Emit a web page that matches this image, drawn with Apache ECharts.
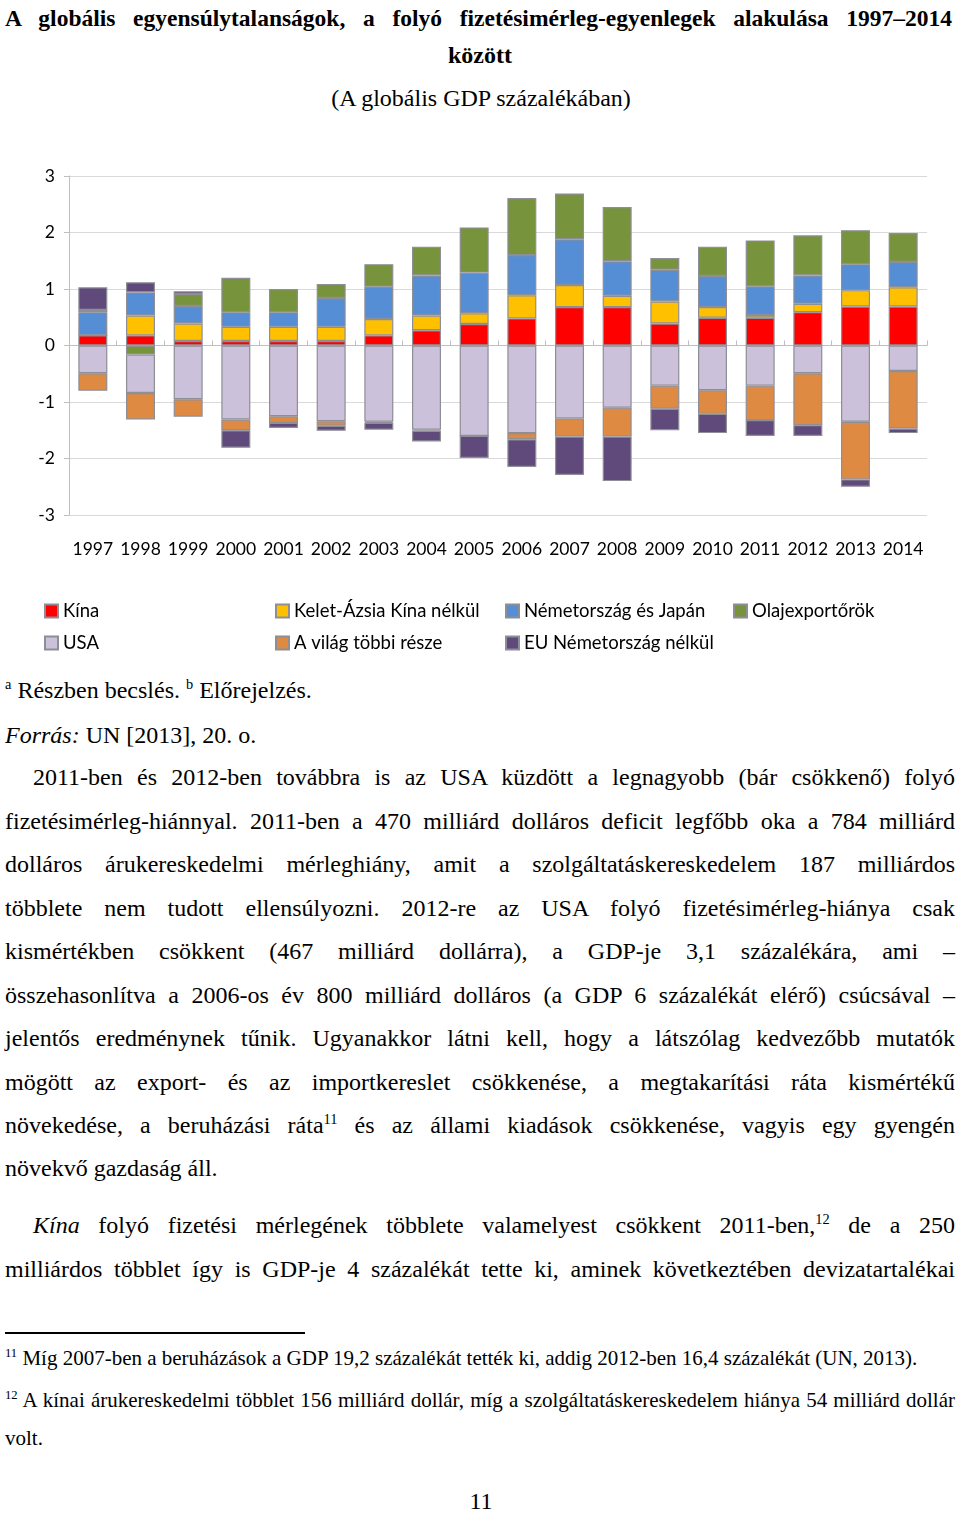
<!DOCTYPE html>
<html><head><meta charset="utf-8">
<script src="https://cdn.jsdelivr.net/npm/echarts@6/dist/echarts.min.js"></script>
<style>
html,body{margin:0;padding:0;background:#fff;width:960px;height:1513px;overflow:hidden;}
.t{position:absolute;font-family:"Liberation Serif","Times New Roman",serif;color:#000;white-space:nowrap;font-size:24px;line-height:28px;}
.j{text-align:justify;text-align-last:justify;white-space:normal;}
.f{font-size:21px;line-height:24px;}
sup{font-size:60%;line-height:0;vertical-align:super;}
#chart{position:absolute;left:0;top:150px;width:960px;height:520px;}
</style></head><body>
<div class="t j" style="left:5px;width:947px;top:4px;font-weight:bold;font-size:23.5px;">A globális egyensúlytalanságok, a folyó fizetésimérleg-egyenlegek alakulása 1997–2014</div>
<div class="t" style="left:0;width:960px;text-align:center;top:41px;font-weight:bold;">között</div>
<div class="t" style="left:0;width:962px;text-align:center;top:84px;">(A globális GDP százalékában)</div>
<div id="chart"></div>
<div class="t" style="left:5px;top:676px;"><sup>a</sup> Részben becslés. <sup>b</sup> Előrejelzés.</div>
<div class="t" style="left:5px;top:721px;"><i>Forrás:</i> UN [2013], 20. o.</div>
<div class="t j" style="left:33px;width:922px;top:763px;">2011-ben és 2012-ben továbbra is az USA küzdött a legnagyobb (bár csökkenő) folyó</div>
<div class="t j" style="left:5px;width:950px;top:807px;">fizetésimérleg-hiánnyal. 2011-ben a 470 milliárd dolláros deficit legfőbb oka a 784 milliárd</div>
<div class="t j" style="left:5px;width:950px;top:850px;">dolláros árukereskedelmi mérleghiány, amit a szolgáltatáskereskedelem 187 milliárdos</div>
<div class="t j" style="left:5px;width:950px;top:894px;">többlete nem tudott ellensúlyozni. 2012-re az USA folyó fizetésimérleg-hiánya csak</div>
<div class="t j" style="left:5px;width:950px;top:937px;">kismértékben csökkent (467 milliárd dollárra), a GDP-je 3,1 százalékára, ami –</div>
<div class="t j" style="left:5px;width:950px;top:981px;">összehasonlítva a 2006-os év 800 milliárd dolláros (a GDP 6 százalékát elérő) csúcsával –</div>
<div class="t j" style="left:5px;width:950px;top:1024px;">jelentős eredménynek tűnik. Ugyanakkor látni kell, hogy a látszólag kedvezőbb mutatók</div>
<div class="t j" style="left:5px;width:950px;top:1068px;">mögött az export- és az importkereslet csökkenése, a megtakarítási ráta kismértékű</div>
<div class="t j" style="left:5px;width:950px;top:1111px;">növekedése, a beruházási ráta<sup>11</sup> és az állami kiadások csökkenése, vagyis egy gyengén</div>
<div class="t" style="left:5px;top:1154px;">növekvő gazdaság áll.</div>
<div class="t j" style="left:33px;width:922px;top:1211px;"><i>Kína</i> folyó fizetési mérlegének többlete valamelyest csökkent 2011-ben,<sup>12</sup> de a 250</div>
<div class="t j" style="left:5px;width:950px;top:1255px;">milliárdos többlet így is GDP-je 4 százalékát tette ki, aminek következtében devizatartalékai</div>
<div style="position:absolute;left:5px;top:1332px;width:300px;height:2px;background:#000;"></div>
<div class="t f" style="left:5px;top:1346px;"><sup>11</sup> Míg 2007-ben a beruházások a GDP 19,2 százalékát tették ki, addig 2012-ben 16,4 százalékát (UN, 2013).</div>
<div class="t j f" style="left:5px;width:950px;top:1388px;"><sup>12</sup> A kínai árukereskedelmi többlet 156 milliárd dollár, míg a szolgáltatáskereskedelem hiánya 54 milliárd dollár</div>
<div class="t f" style="left:5px;top:1426px;">volt.</div>
<div class="t" style="left:0;width:962px;text-align:center;top:1487px;">11</div>
<script>
var years = ['1997','1998','1999','2000','2001','2002','2003','2004','2005','2006','2007','2008','2009','2010','2011','2012','2013','2014'];
var kina  = [0.18,0.18,0.08,0.08,0.08,0.08,0.18,0.27,0.38,0.48,0.68,0.68,0.39,0.49,0.49,0.59,0.69,0.69];
var kelet = [0.00,0.35,0.31,0.25,0.25,0.25,0.29,0.26,0.19,0.41,0.39,0.20,0.39,0.19,0.05,0.15,0.29,0.34];
var nemjap= [0.41,0.41,0.31,0.26,0.26,0.51,0.57,0.71,0.72,0.71,0.81,0.61,0.56,0.55,0.51,0.50,0.46,0.45];
var olaj  = [0.04,-0.16,0.21,0.61,0.41,0.25,0.40,0.51,0.80,1.01,0.81,0.96,0.21,0.52,0.81,0.71,0.60,0.51];
var usa   = [-0.49,-0.68,-0.95,-1.31,-1.25,-1.34,-1.35,-1.49,-1.60,-1.55,-1.29,-1.10,-0.71,-0.79,-0.71,-0.49,-1.35,-0.45];
var vilag = [-0.31,-0.47,-0.31,-0.19,-0.12,-0.08,-0.02,-0.02,0,-0.11,-0.32,-0.51,-0.41,-0.42,-0.61,-0.92,-1.02,-1.02];
var eu    = [0.40,0.18,0.05,-0.31,-0.09,-0.09,-0.12,-0.19,-0.39,-0.49,-0.68,-0.79,-0.38,-0.34,-0.28,-0.19,-0.13,-0.08];
var names = ['Kína','Kelet-Ázsia Kína nélkül','Németország és Japán','Olajexportőrök','USA','A világ többi része','EU Németország nélkül'];
var colors = ['#FF0000','#FFC000','#558ED5','#77933C','#CCC1DA','#DE8A43','#604A7B'];
var seriesData = [kina,kelet,nemjap,olaj,usa,vilag,eu];

var chart = echarts.init(document.getElementById('chart'), null, {renderer:'canvas'});
var FONT = 'Lato, "Open Sans", sans-serif';
var series = seriesData.map(function(d,i){
  return {name:names[i], type:'bar', stack:'total', data:d, barWidth:29,
    itemStyle:{color:colors[i], borderColor:'#8E8E96', borderWidth:1.2},
    emphasis:{disabled:true}};
});
var legendPos = [[44,451],[275,451],[505,451],[733,451],[44,483],[275,483],[505,483]];
var legends = names.map(function(n,i){
  return {data:[n], left:legendPos[i][0], top:legendPos[i][1], padding:0, icon:'rect', itemWidth:13, itemHeight:13, itemGap:5,
    textStyle:{fontFamily:FONT, fontSize:18.5, color:'#000', lineHeight:20}, selectedMode:false};
});
chart.setOption({
  animation:false,
  grid:{left:69, right:33, top:26, height:339, containLabel:false},
  legend:legends,
  xAxis:[
    {type:'category', data:years, position:'bottom',
     axisLine:{show:false, onZero:false}, axisTick:{show:false},
     axisLabel:{interval:0, fontFamily:FONT, fontSize:17.5, color:'#000', margin:25}},
    {type:'category', data:years, gridIndex:0,
     axisLine:{show:true, onZero:true, lineStyle:{color:'#BFBFBF'}},
     axisTick:{show:true, inside:false, length:5, lineStyle:{color:'#BFBFBF'}},
     axisLabel:{show:false}}
  ],
  yAxis:{type:'value', min:-3, max:3, interval:1,
    axisLine:{show:true, lineStyle:{color:'#BFBFBF'}},
    axisTick:{show:true, length:5, lineStyle:{color:'#BFBFBF'}},
    axisLabel:{fontFamily:FONT, fontSize:17.5, color:'#000', margin:14},
    splitLine:{lineStyle:{color:'#D9D9D9'}}},
  series:series
});
</script>
</body></html>
